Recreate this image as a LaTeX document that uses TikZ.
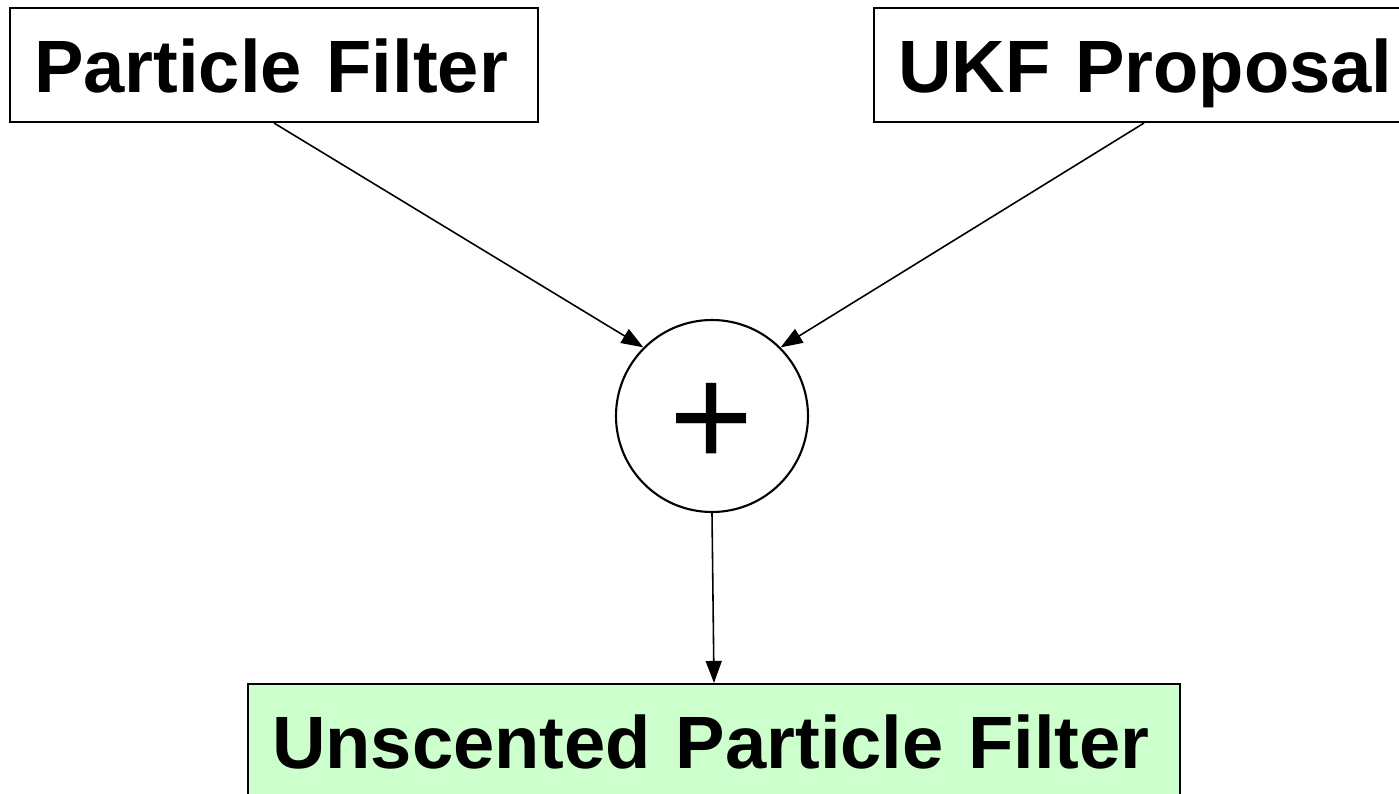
\documentclass[tikz,border=0pt]{standalone}
\usepackage{fontspec}
\setmainfont{Liberation Sans}
\usetikzlibrary{arrows.meta}
\definecolor{upfc}{RGB}{204,255,204}
\tikzset{
  % text boxes: left set text, a fixed baseline in every box
  blk/.style={rectangle,draw=black,line width=0.6pt,minimum height=1.14cm,
    inner xsep=0.24cm,inner ysep=0pt,align=left,text height=0.62cm,text depth=0.08cm,
    font=\fontsize{21.1}{25}\selectfont\bfseries},
  summer/.style={circle,draw=black,line width=0.6pt,minimum size=1.92cm,inner sep=0pt,
    text height=28.8pt,text depth=0pt,font=\fontsize{41}{45}\selectfont},
  flow/.style={-{Triangle[length=2.2mm,width=1.6mm]},line width=0.45pt,black},
}
\begin{document}
\begin{tikzpicture}
  \useasboundingbox (0,0) rectangle (13.99,7.93);
  % ---- the two ingredients ----
  \node[blk,text width=4.80cm] (pf) at (2.74,7.28) {\mbox{Particle Filter}};
  \node[blk,text width=4.92cm] (ukf) at (11.44,7.28) {\mbox{UKF Proposal}};
  % ---- combined at the summing junction ----
  \node[summer] (sum) at (7.12,3.77) {+};
  \draw[flow] (pf.south) -- (sum.135);
  \draw[flow] (ukf.south) -- (sum.45);
  % ---- the result, cut off by the lower edge ----
  \node[blk,fill=upfc,text width=8.84cm] (upf) at (7.14,0.52) {\mbox{Unscented Particle Filter}};
  \draw[flow] (sum.south) -- (upf.north);
\end{tikzpicture}
\end{document}
